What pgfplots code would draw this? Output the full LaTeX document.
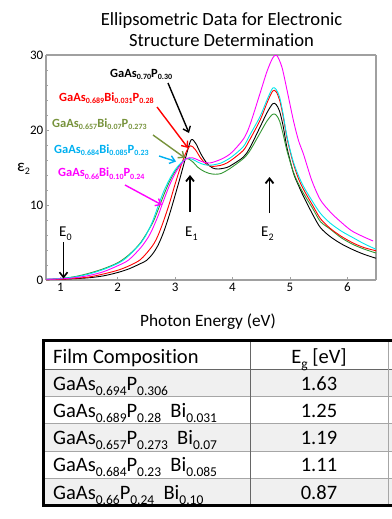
\documentclass[border=0pt]{standalone}
\usepackage{pgfplots}
\pgfplotsset{compat=1.18}
\usepackage{fontspec}
\setmainfont{Carlito}[Ligatures=NoCommon]
\usetikzlibrary{arrows.meta}

\definecolor{cgreen}{RGB}{50,150,50}
\definecolor{ccyan}{RGB}{0,230,235}
\definecolor{lblue}{RGB}{0,176,240}
\definecolor{olivec}{RGB}{119,147,60}
\definecolor{mag}{RGB}{255,0,255}
\definecolor{axgray}{RGB}{160,160,160}
\definecolor{rowgray}{RGB}{240,240,240}

\newcommand{\ls}[1]{\raisebox{-2.5bp}{\fontsize{8bp}{8bp}\selectfont\bfseries #1}}
\newcommand{\ts}[1]{\raisebox{-5bp}{\fontsize{13.5bp}{13.5bp}\selectfont #1}}
\newcommand{\es}[1]{\raisebox{-3.5bp}{\fontsize{10bp}{10bp}\selectfont #1}}

\pgfplotstableread{
E eps
0.75 0.05
1.0 0.1
1.25 0.18
1.5 0.3
1.75 0.55
2.0 1.0
2.2 1.5
2.4 2.2
2.5 2.6
2.6 3.4
2.7 4.6
2.8 6.4
2.9 8.7
3.0 11.3
3.1 14.0
3.2 16.8
3.28 18.7
3.36 18.2
3.45 16.8
3.55 15.6
3.65 14.95
3.75 14.8
3.9 15.0
4.0 15.4
4.19 16.4
4.3 17.6
4.48 20.4
4.6 22.3
4.7 23.5
4.76 23.4
4.82 22.5
4.88 20.6
4.95 17.6
5.06 14.3
5.15 12.6
5.24 11.1
5.4 8.7
5.53 7.0
5.7 5.8
5.9 4.8
6.11 4.0
6.3 3.4
6.5 2.9
}\tblack

\pgfplotstableread{
E eps
0.75 0.05
1.0 0.1
1.25 0.22
1.5 0.4
1.75 0.8
2.0 1.3
2.2 1.9
2.4 2.75
2.6 4.5
2.7 5.9
2.8 7.9
2.9 10.2
3.0 12.8
3.1 15.2
3.2 17.2
3.27 17.9
3.35 17.4
3.45 16.2
3.55 15.4
3.65 15.15
3.8 15.3
3.9 15.6
4.0 16.1
4.19 17.3
4.3 18.7
4.48 21.3
4.6 23.6
4.7 25.2
4.76 25.1
4.82 24.0
4.88 21.9
4.95 18.9
5.05 15.8
5.15 13.5
5.25 11.9
5.4 9.9
5.53 8.2
5.7 6.9
5.9 5.8
6.11 4.9
6.3 4.3
6.5 3.9
}\tred

\pgfplotstableread{
E eps
0.75 0.1
1.0 0.2
1.25 0.45
1.5 0.9
1.75 1.5
2.0 2.3
2.2 3.4
2.4 5.0
2.6 7.5
2.7 9.3
2.8 11.3
2.9 13.1
3.0 14.5
3.1 15.5
3.2 16.2
3.3 15.8
3.4 15.0
3.5 14.5
3.6 14.2
3.7 14.1
3.8 14.2
3.9 14.6
4.0 15.1
4.19 16.2
4.3 17.2
4.48 19.6
4.6 21.2
4.7 22.1
4.76 22.0
4.82 21.2
4.88 19.5
4.95 17.2
5.06 14.4
5.15 12.8
5.24 11.5
5.4 9.5
5.53 7.8
5.7 6.8
5.9 5.6
6.11 4.7
6.3 4.1
6.5 3.6
}\tgreen

\pgfplotstableread{
E eps
0.75 0.1
1.0 0.2
1.25 0.4
1.5 0.8
1.75 1.4
2.0 2.2
2.1 2.67
2.2 3.3
2.4 4.9
2.48 5.8
2.6 7.7
2.71 10.0
2.8 11.8
2.9 13.4
3.0 14.7
3.1 15.6
3.2 16.2
3.3 16.1
3.4 15.7
3.5 15.4
3.6 15.3
3.7 15.4
3.8 15.6
3.9 16.0
4.0 16.5
4.19 17.8
4.3 19.3
4.48 21.8
4.6 24.0
4.7 25.6
4.76 25.4
4.82 24.4
4.88 22.2
4.95 19.1
5.05 16.0
5.15 13.9
5.25 12.3
5.4 10.4
5.53 8.9
5.7 7.6
5.9 6.5
6.11 5.6
6.3 4.8
6.5 4.1
}\tcyan

\pgfplotstableread{
E eps
0.75 0.1
1.0 0.15
1.25 0.3
1.5 0.6
1.75 1.1
2.0 1.9
2.19 2.67
2.4 4.3
2.54 5.8
2.6 6.7
2.7 8.5
2.77 10.0
2.9 12.6
3.0 14.2
3.1 15.4
3.2 16.2
3.3 16.3
3.4 16.0
3.5 15.7
3.6 15.6
3.7 15.8
3.8 16.1
3.9 16.5
4.0 17.1
4.19 18.8
4.3 20.6
4.48 24.9
4.6 27.8
4.7 29.6
4.77 29.95
4.86 28.4
4.95 25.3
5.06 21.3
5.15 18.6
5.24 16.7
5.38 13.3
5.53 10.7
5.7 9.1
5.82 8.2
6.0 7.0
6.11 6.4
6.3 5.7
6.45 5.2
}\tmag

\begin{document}
\begin{tikzpicture}
\path[use as bounding box] (0,0) rectangle (392bp,-519bp);
\begin{axis}[
  at={(46bp,-280bp)}, anchor=south west,
  scale only axis, width=330bp, height=225bp,
  xmin=0.75, xmax=6.5, ymin=0, ymax=30,
  xtick={1,2,3,4,5,6}, ytick={0,10,20,30},
  minor y tick num=4,
  xtick pos=bottom, ytick pos=left,
  tick align=inside,
  major tick length=3bp, minor tick length=2bp,
  tick style={axgray, line width=0.5bp},
  separate axis lines,
  axis line style={axgray, line width=1.2bp},
  ticklabel style={font=\fontsize{13bp}{13bp}\selectfont},
  /pgf/number format/assume math mode=true,
  every tick label/.append style={inner sep=2.5bp},
  line join=round,
]
\addplot[black, line width=0.9bp, smooth] table[x=E,y=eps] {\tblack};
\addplot[cgreen, line width=0.9bp, smooth] table[x=E,y=eps] {\tgreen};
\addplot[red, line width=0.9bp, smooth] table[x=E,y=eps] {\tred};
\addplot[ccyan, line width=0.9bp, smooth] table[x=E,y=eps] {\tcyan};
\addplot[mag, line width=0.9bp, smooth] table[x=E,y=eps] {\tmag};
\end{axis}

\begin{scope}[x=1bp, y=-1bp]
% title
\node[anchor=base] at (221.5,25) {\fontsize{18.6bp}{20bp}\selectfont Ellipsometric Data for Electronic};
\node[anchor=base] at (221.5,46.7) {\fontsize{18.6bp}{20bp}\selectfont Structure Determination};
% axis labels
\node[anchor=base] at (208,326) {\fontsize{17.3bp}{18bp}\selectfont Photon Energy (eV)};
\node[anchor=base west, inner sep=0] at (17,171) {\fontsize{17bp}{18bp}\selectfont ε\es{2}};
% series labels
\node[anchor=base west, inner sep=0, text=black] at (110,77) {\fontsize{12.5bp}{15bp}\selectfont\bfseries GaAs\ls{0.70}P\ls{0.30}};
\node[anchor=base west, inner sep=0, text=red] at (59,101) {\fontsize{12.5bp}{15bp}\selectfont\bfseries GaAs\ls{0.689}Bi\ls{0.031}P\ls{0.28}};
\node[anchor=base west, inner sep=0, text=olivec] at (52,127.3) {\fontsize{12.5bp}{15bp}\selectfont\bfseries GaAs\ls{0.657}Bi\ls{0.07}P\ls{0.273}};
\node[anchor=base west, inner sep=0, text=lblue] at (54,153.3) {\fontsize{12.5bp}{15bp}\selectfont\bfseries GaAs\ls{0.684}Bi\ls{0.085}P\ls{0.23}};
\node[anchor=base west, inner sep=0, text=mag] at (58,176.7) {\fontsize{12.5bp}{15bp}\selectfont\bfseries GaAs\ls{0.66}Bi\ls{0.10}P\ls{0.24}};
% arrows
\draw[black, line width=1.4bp, -{Straight Barb[length=5bp,width=8bp]}] (168,83) -- (189,133);
\draw[red, line width=1.4bp, -{Straight Barb[length=5bp,width=8bp]}] (157,107) -- (188,148);
\draw[olivec, line width=1.4bp, -{Straight Barb[length=5bp,width=8bp]}] (153,135) -- (185,158);
\draw[lblue, line width=1.4bp, -{Straight Barb[length=5bp,width=8bp]}] (159,156) -- (176,161.5);
\draw[mag, line width=1.4bp, -{Straight Barb[length=5bp,width=8bp]}] (125,185) -- (162,205);
\draw[black, line width=1.6bp, -{Straight Barb[length=5bp,width=8bp]}] (63.5,242) -- (63.5,278.5);
\draw[black, line width=1.8bp, -{Straight Barb[length=5bp,width=8bp]}] (190,212) -- (190,175);
\draw[black, line width=1.8bp, -{Straight Barb[length=5bp,width=8bp]}] (269.5,213) -- (269.5,177);
\node[anchor=base west, inner sep=0] at (59,236.7) {\fontsize{15bp}{16bp}\selectfont E\es{0}};
\node[anchor=base west, inner sep=0] at (185,236.7) {\fontsize{15bp}{16bp}\selectfont E\es{1}};
\node[anchor=base west, inner sep=0] at (261,236.7) {\fontsize{15bp}{16bp}\selectfont E\es{2}};
% table
\fill[rowgray] (43,369) rectangle (396,396);
\fill[rowgray] (43,423) rectangle (396,451);
\fill[rowgray] (43,478) rectangle (396,505);
\foreach \yy in {396,423,451,478} \draw[gray!70, line width=0.8bp] (43,\yy) -- (396,\yy);
\draw[gray!80!black, line width=1bp] (43,369) -- (396,369);
\draw[gray!80!black, line width=1bp] (250,340) -- (250,505);
\draw[gray!70, line width=0.8bp] (388,340) -- (388,505);
\draw[black, line width=3bp] (43,340) rectangle (396,505);
\node[anchor=base west, inner sep=0] at (53,363) {\fontsize{20.5bp}{22bp}\selectfont Film Composition};
\node[anchor=base, inner sep=0] at (319,363) {\fontsize{20.5bp}{22bp}\selectfont E\ts{g} [eV]};
\node[anchor=base west, inner sep=0] at (53,390) {\fontsize{20.5bp}{22bp}\selectfont GaAs\ts{0.694}P\ts{0.306}};
\node[anchor=base west, inner sep=0] at (53,417.3) {\fontsize{20.5bp}{22bp}\selectfont GaAs\ts{0.689}P\ts{0.28}\ \ Bi\ts{0.031}};
\node[anchor=base west, inner sep=0] at (53,444.6) {\fontsize{20.5bp}{22bp}\selectfont GaAs\ts{0.657}P\ts{0.273}\ \ Bi\ts{0.07}};
\node[anchor=base west, inner sep=0] at (53,471.9) {\fontsize{20.5bp}{22bp}\selectfont GaAs\ts{0.684}P\ts{0.23}\ \ Bi\ts{0.085}};
\node[anchor=base west, inner sep=0] at (53,499.2) {\fontsize{20.5bp}{22bp}\selectfont GaAs\ts{0.66}P\ts{0.24}\ \ Bi\ts{0.10}};
\node[anchor=base, inner sep=0] at (319,390) {\fontsize{20.5bp}{22bp}\selectfont 1.63};
\node[anchor=base, inner sep=0] at (319,417.3) {\fontsize{20.5bp}{22bp}\selectfont 1.25};
\node[anchor=base, inner sep=0] at (319,444.6) {\fontsize{20.5bp}{22bp}\selectfont 1.19};
\node[anchor=base, inner sep=0] at (319,471.9) {\fontsize{20.5bp}{22bp}\selectfont 1.11};
\node[anchor=base, inner sep=0] at (319,499.2) {\fontsize{20.5bp}{22bp}\selectfont 0.87};
\end{scope}
\end{tikzpicture}
\end{document}
